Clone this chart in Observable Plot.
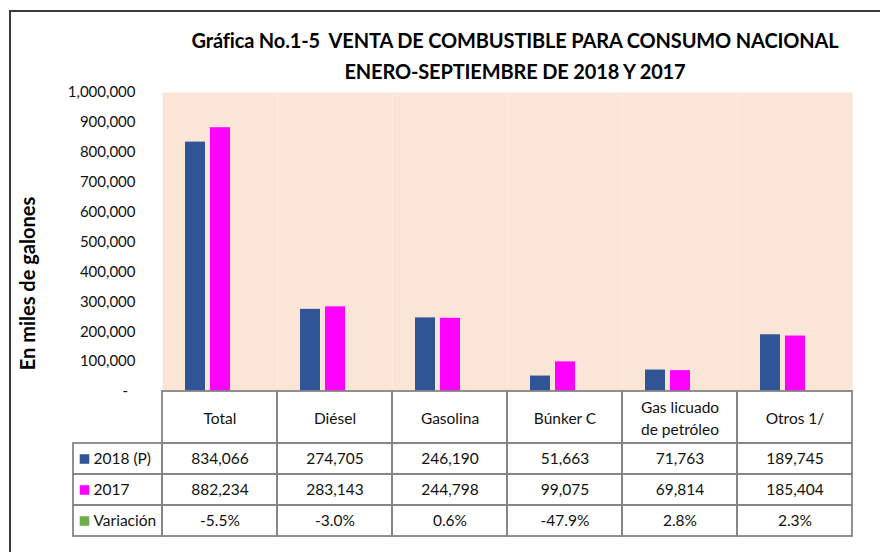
<!DOCTYPE html>
<html><head><meta charset="utf-8">
<script src="https://cdn.jsdelivr.net/npm/d3@7"></script>
<script src="https://cdn.jsdelivr.net/npm/@observablehq/plot@0.6"></script>
<style>
body{margin:0;background:#fff;font-family:Lato,sans-serif;}
#wrap{position:relative;width:880px;height:552px;overflow:hidden;background:#fff;}
#title{height:84px;box-sizing:border-box;padding-top:25px;padding-left:178px;width:852px;text-align:center;font-weight:700;font-size:20px;line-height:31px;color:#000;white-space:nowrap;letter-spacing:-0.15px;}
#border{position:absolute;left:9px;top:10px;right:-10px;bottom:-10px;border-left:2px solid #3a3a3a;border-top:2px solid #3a3a3a;pointer-events:none;}
</style></head><body>
<div id="wrap">
<div id="title"><div>Gráfica No.1-5&nbsp; VENTA DE COMBUSTIBLE PARA CONSUMO NACIONAL</div><div>ENERO-SEPTIEMBRE DE 2018 Y 2017</div></div>
<div id="chart"></div>
<div id="border"></div>
</div>
<script>
const categories = ["Total", "Diésel", "Gasolina", "Búnker C", "Gas licuado\nde petróleo", "Otros 1/"];
const series = ["2018 (P)", "2017", "Variación"];
const values2018 = [834066, 274705, 246190, 51663, 71763, 189745];
const values2017 = [882234, 283143, 244798, 99075, 69814, 185404];
const variacion = ["-5.5%", "-3.0%", "0.6%", "-47.9%", "2.8%", "2.3%"];
const yTicks = [0, 100000, 200000, 300000, 400000, 500000, 600000, 700000, 800000, 900000, 1000000];
const colors = ["#2F5597", "#FF00FF", "#70AD47"];

const fmt = d3.format(",");
const bars = categories.flatMap((c, i) => [
  {cat: c, series: series[0], value: values2018[i]},
  {cat: c, series: series[1], value: values2017[i]}
]);
const tableRows = [
  {label: series[0], color: colors[0], texts: values2018.map(fmt)},
  {label: series[1], color: colors[1], texts: values2017.map(fmt)},
  {label: series[2], color: colors[2], texts: variacion}
];

// layout constants (pixels below the plot frame)
const frameH = 299;
const rowEdges = [0, 52, 83, 114, 145];
const labelColW = 89;
const colW = 115;
const gridColor = "#858585";

const marks = [
  Plot.frame({fill: "#FBE5D6"}),
  Plot.barY(bars, {fx: "cat", x: "series", y: "value", fill: "series"})
];

for (let r = 0; r < 4; r++) {
  const top = rowEdges[r], bot = rowEdges[r + 1];
  marks.push(Plot.rect(categories, {fx: d => d, insetTop: frameH + top, insetBottom: -bot, stroke: gridColor, strokeWidth: 1.8, fill: "none"}));
  if (r > 0) {
    marks.push(Plot.rect([categories[0]], {fx: d => d, insetTop: frameH + top, insetBottom: -bot, insetLeft: -labelColW, insetRight: colW, stroke: gridColor, strokeWidth: 1.8, fill: "none"}));
  }
}

marks.push(Plot.text(categories, {fx: d => d, text: d => d, frameAnchor: "bottom", lineAnchor: "middle", dy: (rowEdges[0] + rowEdges[1]) / 2 - 1, fontSize: 15.5, lineHeight: 1.42, fill: "#111"}));

tableRows.forEach((row, r) => {
  const mid = (rowEdges[r + 1] + rowEdges[r + 2]) / 2;
  marks.push(Plot.text(d3.range(categories.length), {fx: i => categories[i], text: i => row.texts[i], frameAnchor: "bottom", lineAnchor: "middle", dy: mid, fontSize: 15.5, fill: "#111"}));
  marks.push(Plot.text([categories[0]], {fx: d => d, text: () => row.label, frameAnchor: "bottom-left", lineAnchor: "middle", textAnchor: "start", dx: -69, dy: mid, fontSize: 15.5, fill: "#111"}));
  marks.push(Plot.dot([categories[0]], {fx: d => d, frameAnchor: "bottom-left", dx: -78, dy: mid, symbol: "square", r: 5.4, fill: row.color, stroke: null}));
});

marks.push(Plot.text([categories[0]], {fx: d => d, text: () => "En miles de galones", frameAnchor: "left", textAnchor: "middle", lineAnchor: "middle", dx: -134, dy: 41.5, rotate: -90, fontWeight: "bold", fontSize: 20, fill: "#000"}));

marks.push(Plot.axisY({ticks: yTicks, tickFormat: d => d === 0 ? "-\u2002" : fmt(d), tickSize: 0, tickPadding: 27, fontSize: 15, label: null}));

const chart = Plot.plot({
  width: 880,
  height: 468,
  marginTop: 8,
  marginBottom: 161,
  marginLeft: 162,
  marginRight: 28,
  style: {fontFamily: "Lato, sans-serif", fontSize: "15px", color: "#111", background: "transparent", overflow: "visible"},
  fx: {domain: categories, paddingInner: 0, paddingOuter: 0, axis: null, label: null},
  x: {domain: series, paddingInner: 0.2, paddingOuter: 0.9, axis: null, label: null},
  y: {domain: [0, 1000000], label: null},
  color: {domain: series, range: colors},
  marks
});
document.getElementById("chart").appendChild(chart);
</script>
</body></html>
